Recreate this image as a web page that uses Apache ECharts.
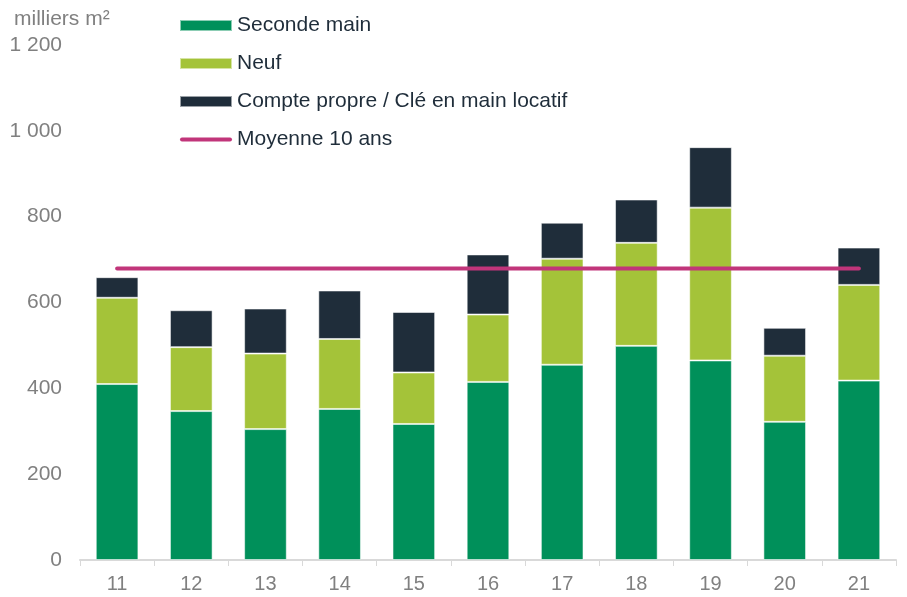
<!DOCTYPE html>
<html>
<head>
<meta charset="utf-8">
<script src="https://cdn.jsdelivr.net/npm/echarts@6/dist/echarts.min.js"></script>
<style>
  html, body { margin: 0; padding: 0; background: #fff; }
  #chart { width: 907px; height: 597px; }
</style>
</head>
<body>
<div id="chart"></div>
<script>
// données (milliers m²)
const years = ['11', '12', '13', '14', '15', '16', '17', '18', '19', '20', '21'];
const secondeMain = [410, 347, 305, 352, 317, 415, 455, 499, 465, 322, 418];
const neuf = [201, 149, 176, 163, 120, 157, 247, 240, 356, 154, 223];
const comptePropre = [48, 86, 105, 113, 141, 140, 84, 101, 141, 65, 87];
const moyenne10ans = [679, 679, 679, 679, 679, 679, 679, 679, 679, 679, 679];

const FONT = 'Arial, "Liberation Sans", sans-serif';
const colors = {
  seconde: '#00905A',
  neuf: '#A4C339',
  compte: '#1F2D3A',
  moyenne: '#C1357A',
  axisText: '#808080',
  legendText: '#1F2D3A'
};

const chart = echarts.init(document.getElementById('chart'));

function barSeries(name, data, color) {
  return {
    name,
    type: 'bar',
    stack: 'total',
    data,
    barWidth: '57.5%',
    itemStyle: {
      color,
      borderColor: 'rgba(255,255,255,0.55)',
      borderWidth: 1
    },
    emphasis: { disabled: true }
  };
}

chart.setOption({
  animation: false,
  backgroundColor: '#fff',
  textStyle: { fontFamily: FONT },
  grid: { left: 80, right: 11, top: 45, bottom: 37, containLabel: false },
  graphic: [{
    type: 'text',
    left: 14,
    top: 9,
    style: { text: 'milliers m²', fontSize: 21, fill: colors.axisText, fontFamily: FONT }
  }],
  legend: {
    orient: 'vertical',
    left: 174,
    top: 10,
    itemWidth: 52,
    itemHeight: 11,
    itemGap: 17,
    textStyle: { fontSize: 21, color: colors.legendText, fontFamily: FONT },
    data: [
      { name: 'Seconde main', icon: 'rect' },
      { name: 'Neuf', icon: 'rect' },
      { name: 'Compte propre / Clé en main locatif', icon: 'rect' },
      // trait fin pour la moyenne
      { name: 'Moyenne 10 ans', icon: 'path://M2,0 L50,0 A2,2 0 0 1 50,4 L2,4 A2,2 0 0 1 2,0 Z' }
    ]
  },
  xAxis: {
    type: 'category',
    data: years,
    boundaryGap: true,
    axisLine: { lineStyle: { color: '#D9D9D9', width: 2 } },
    axisTick: { show: true, length: 6, lineStyle: { color: '#D9D9D9' } },
    axisLabel: { color: colors.axisText, fontSize: 20, margin: 14, fontFamily: FONT }
  },
  yAxis: {
    type: 'value',
    min: 0,
    max: 1200,
    interval: 200,
    axisLine: { show: false },
    axisTick: { show: false },
    splitLine: { show: false },
    axisLabel: {
      color: colors.axisText,
      fontSize: 21,
      margin: 18,
      fontFamily: FONT,
      formatter: v => String(v).replace(/\B(?=(\d{3})+(?!\d))/g, ' ')
    }
  },
  series: [
    barSeries('Seconde main', secondeMain, colors.seconde),
    barSeries('Neuf', neuf, colors.neuf),
    barSeries('Compte propre / Clé en main locatif', comptePropre, colors.compte),
    {
      name: 'Moyenne 10 ans',
      type: 'line',
      data: moyenne10ans,
      symbol: 'none',
      lineStyle: { color: colors.moyenne, width: 4, cap: 'round' },
      itemStyle: { color: colors.moyenne },
      z: 5
    }
  ]
});
</script>
</body>
</html>
